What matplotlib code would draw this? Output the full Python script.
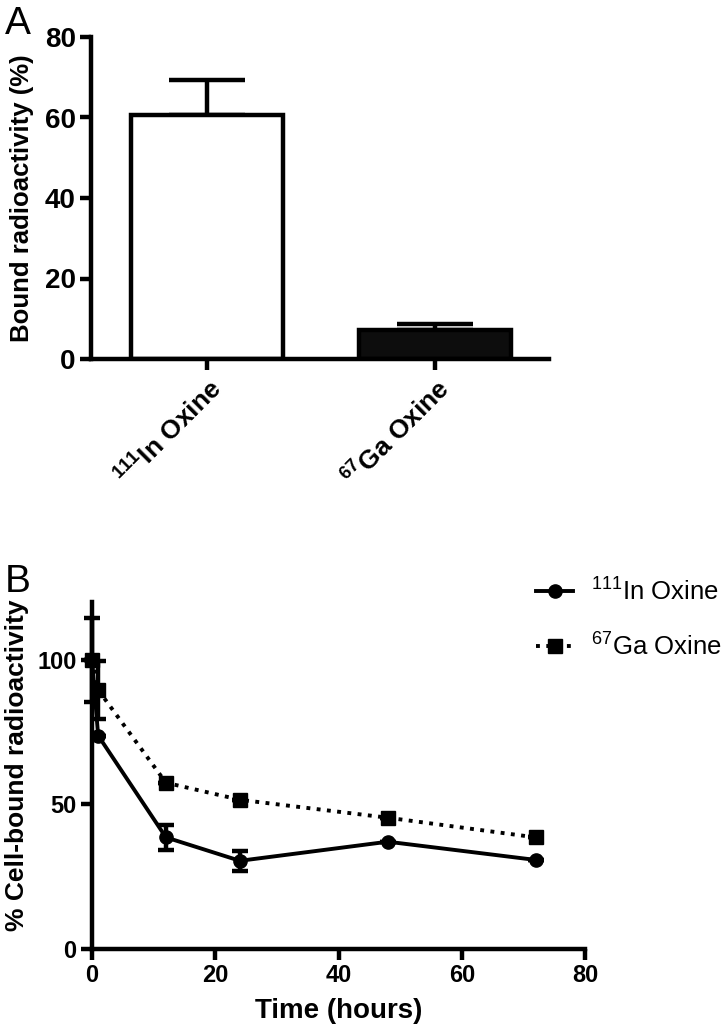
import matplotlib
matplotlib.use("Agg")
import matplotlib.pyplot as plt

plt.rcParams['font.family'] = ['Liberation Sans Narrow', 'Liberation Sans', 'DejaVu Sans']
plt.rcParams['mathtext.fontset'] = 'custom'
plt.rcParams['mathtext.rm'] = 'Liberation Sans'
plt.rcParams['mathtext.bf'] = 'Liberation Sans:bold'

# Panel A: bound radioactivity
bar_labels = [r"$^{\mathbf{111}}$In Oxine", r"$^{\mathbf{67}}$Ga Oxine"]
bar_values = [60.6, 7.3]
bar_errors = [8.7, 1.4]

# Panel B: cell-bound radioactivity over time
time_h = [0, 1, 12, 24, 48, 72]
in_values = [100, 73.8, 38.6, 30.5, 37.1, 30.8]
in_errors = [14.5, 0, 4.2, 3.4, 0, 0]
ga_values = [100, 89.6, 57.5, 51.6, 45.4, 38.6]
ga_errors = [0, 10.0, 0, 0, 0, 0]
legend_labels = [r"$^{111}$In Oxine", r"$^{67}$Ga Oxine"]

W, H = 728, 1035
LW = 3.2


def px_axes(fig, left, top, right, bottom):
    return fig.add_axes([left / W, 1 - bottom / H, (right - left) / W, (bottom - top) / H])


def style_axes(ax, size=20):
    for side in ('top', 'right'):
        ax.spines[side].set_visible(False)
    for side in ('left', 'bottom'):
        ax.spines[side].set_linewidth(LW)
    ax.tick_params(width=LW, length=8, labelsize=size, pad=3)
    for lab in ax.get_xticklabels() + ax.get_yticklabels():
        lab.set_fontweight('bold')


fig = plt.figure(figsize=(W / 100, H / 100), dpi=100)

# ---- A ----
ax1 = px_axes(fig, 91, 37, 549, 359)
xs = range(len(bar_values))
ax1.bar(xs, bar_values, width=0.667, color=['white', '#0d0d0d'],
        edgecolor='black', linewidth=LW, zorder=2)
ax1.errorbar(xs, bar_values, yerr=[[0, 0], bar_errors], fmt='none',
             ecolor='black', elinewidth=LW, capsize=27.5, capthick=LW, zorder=1)
ax1.set_xlim(-0.51, 1.5)
ax1.set_ylim(0, 80)
ax1.set_yticks([0, 20, 40, 60, 80])
ax1.set_xticks(list(xs))
ax1.set_xticklabels(bar_labels, rotation=45, ha='right', rotation_mode='anchor')
style_axes(ax1)
ax1.tick_params(axis='x', labelsize=19)
ax1.set_ylabel('Bound radioactivity (%)', fontsize=18.5, fontweight='bold')
ax1.yaxis.set_label_coords((34 - 91) / (549 - 91), 0.5)
fig.text(5 / W, 1 - 34 / H, 'A', fontsize=28, family='Liberation Sans')

# ---- B ----
ax2 = px_axes(fig, 92, 602, 585, 949)
ax2.errorbar(time_h, in_values, yerr=in_errors, fmt='-o', color='black',
             lw=2.8, ms=9.5, elinewidth=LW, capsize=5.5, capthick=LW,
             label=legend_labels[0], clip_on=False, zorder=3)
ax2.errorbar(time_h, ga_values, yerr=ga_errors, fmt=':s', color='black',
             lw=2.8, ms=9.5, elinewidth=LW, capsize=5.5, capthick=LW,
             label=legend_labels[1], clip_on=False, zorder=3)
ax2.set_xlim(0, 80)
ax2.set_ylim(0, 120)
ax2.set_xticks([0, 20, 40, 60, 80])
ax2.set_yticks([0, 50, 100])
style_axes(ax2, size=17)
ax2.set_xlabel('Time (hours)', fontsize=20, fontweight='bold')
ax2.xaxis.set_label_coords(0.5, -(998 - 949) / (949 - 602))
ax2.set_ylabel('% Cell-bound radioactivity', fontsize=19, fontweight='bold')
ax2.yaxis.set_label_coords((29 - 92) / (585 - 92), 0.53)

handles, labels = ax2.get_legend_handles_labels()
handles = [h[0] for h in handles]
ax2.legend(handles, labels, loc='upper left', bbox_to_anchor=(536 / W, 1 - 577 / H),
           bbox_transform=fig.transFigure, frameon=False,
           borderpad=0, borderaxespad=0,
           handlelength=1.45, labelspacing=1.05, handletextpad=0.7,
           prop={'family': 'Liberation Sans', 'size': 18.5})
fig.text(5 / W, 1 - 592 / H, 'B', fontsize=28, family='Liberation Sans')

fig.savefig('out.png', dpi=100)
